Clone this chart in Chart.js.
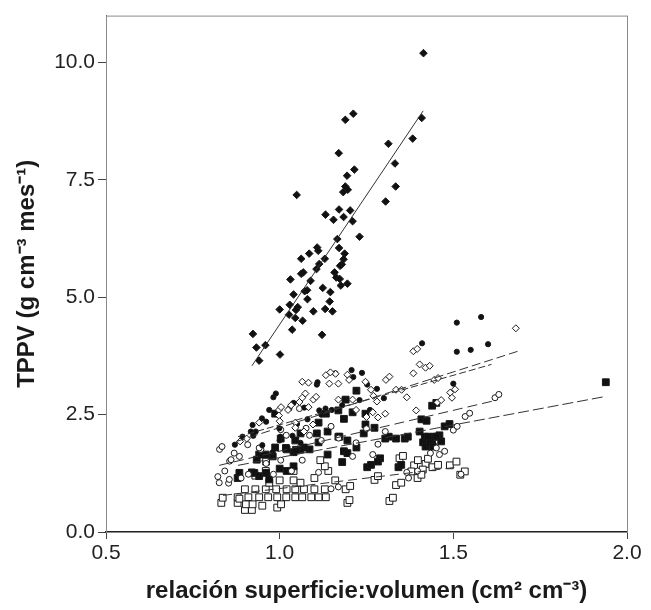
<!DOCTYPE html>
<html>
<head>
<meta charset="utf-8">
<script src="https://cdn.jsdelivr.net/npm/chart.js@4.4.1/dist/chart.umd.min.js"></script>
<style>
  html, body { margin: 0; padding: 0; background: #fff; }
  #wrap { width: 651px; height: 610px; }
</style>
</head>
<body>
<div id="wrap"><canvas id="grafico" width="651" height="610"></canvas></div>
<script>
// ejes
const xTicks = [0.5, 1.0, 1.5, 2.0]
const yTicks = [0, 2.5, 5, 7.5, 10]

// grupos de puntos [relación S:V, TPPV]
const diamantesLlenos = [
  [1.414,10.2],[1.212,8.91],[1.189,8.78],[1.409,8.82],[1.383,8.38],[1.313,8.27],[1.170,8.07],[1.332,7.85],
  [1.215,7.72],[1.194,7.59],[1.189,7.36],[1.196,7.29],[1.183,7.24],[1.049,7.18],[1.334,7.36],[1.305,7.04],
  [1.171,6.87],[1.203,6.85],[1.132,6.76],[1.155,6.65],[1.184,6.71],[1.210,6.62],[1.166,6.24],[1.230,6.29],
  [1.108,6.06],[1.111,5.99],[1.171,6.05],[1.085,5.93],[1.187,5.93],[1.062,5.82],[1.184,5.81],[1.130,5.82],
  [1.114,5.71],[1.179,5.70],[1.174,5.67],[1.106,5.60],[1.062,5.50],[1.068,5.53],[1.158,5.53],[1.163,5.42],
  [1.173,5.39],[1.031,5.38],[1.089,5.35],[1.195,5.29],[1.176,5.25],[1.124,5.20],[1.040,5.06],[1.072,5.13],
  [1.079,5.15],[1.146,5.11],[1.080,4.96],[1.144,4.91],[1.029,4.84],[1.052,4.79],[1.047,4.73],[1.000,4.74],
  [1.097,4.70],[1.131,4.75],[1.152,4.70],[1.027,4.63],[1.045,4.56],[1.066,4.50],[1.036,4.31],[1.122,4.20],
  [0.923,4.22],[0.933,3.93],[0.959,3.98],[1.001,3.78],[0.941,3.65]
]
const diamantesVacios = [
  [1.68,4.34],[1.385,3.85],[1.396,3.90],[1.403,3.57],[1.42,3.50],[1.432,3.54],[1.385,3.38],[1.306,3.24],
  [1.316,3.31],[1.335,3.03],[1.351,3.03],[1.366,2.87],[1.445,3.24],[1.456,3.28],[1.491,2.97],[1.496,2.86],
  [1.505,3.04],[1.454,2.76],[1.465,2.81],[1.133,3.34],[1.161,3.37],[1.195,3.35],[1.146,3.40],[1.065,3.20],
  [1.083,3.18],[1.143,3.16],[1.169,3.16],[1.20,3.24],[1.247,3.20],[1.263,3.03],[1.27,2.90],[1.28,2.78],
  [1.304,2.52],[1.097,2.82],[1.065,2.86],[0.998,2.60],[0.998,2.48],[1.0,2.36],[0.941,2.33],[1.024,2.60],
  [1.045,2.33],[1.045,2.22],[1.07,2.14],[1.169,2.82],[1.21,2.82],[1.268,2.55],[1.283,2.44],[0.905,1.99],
  [0.886,1.93],[1.096,2.29],[1.057,2.77],[1.033,2.70],[1.004,2.66],[1.083,2.66],[1.074,2.95],[1.105,2.88],
  [1.393,2.59],[1.22,2.60],[1.25,2.45]
]
const circulosLlenos = [
  [0.893,2.03],[0.917,2.14],[0.922,2.28],[0.931,2.14],[0.949,2.42],[0.961,2.35],[0.924,2.05],[0.982,2.87],
  [0.989,2.95],[0.999,2.21],[1.002,2.03],[1.028,2.63],[1.037,2.05],[1.071,2.65],[1.107,3.14],[1.109,3.19],
  [1.16,3.38],[1.186,2.83],[1.207,3.45],[1.212,3.30],[1.22,3.02],[1.23,2.81],[1.237,3.39],[1.252,3.14],
  [1.28,3.05],[1.30,2.85],[1.41,4.02],[1.50,3.16],[1.51,3.84],[1.51,4.46],[1.55,3.88],[1.58,4.58],
  [1.60,4.00],[0.95,1.85],[0.98,1.70],[1.0,1.95],[1.05,2.30],[1.08,2.40],[1.12,2.50],[1.15,2.60],
  [1.18,2.70],[1.26,2.60],[1.06,1.90],[0.97,2.60],[1.04,2.75],[1.114,2.59],[1.132,2.63],[0.871,1.86]
]
const circulosVacios = [
  [0.827,1.76],[0.822,1.18],[0.842,1.30],[0.856,1.51],[0.884,1.61],[0.853,1.04],[0.889,1.15],[0.91,1.23],
  [0.946,1.76],[0.961,1.46],[0.982,1.23],[1.003,1.53],[1.034,1.30],[1.065,1.53],[1.086,2.06],[1.112,1.27],
  [1.148,0.92],[1.169,0.96],[1.21,1.61],[1.268,1.65],[1.283,1.87],[1.366,1.27],[1.397,1.30],[1.434,1.68],
  [1.46,1.65],[1.451,1.79],[1.475,1.72],[1.50,2.17],[1.511,2.25],[1.534,2.46],[1.547,2.53],[1.62,2.86],
  [1.631,2.93],[1.522,1.23],[1.371,1.15],[1.304,2.14],[1.148,2.25],[1.003,2.18],[1.019,2.06],[0.908,1.86],
  [0.941,1.79],[0.834,1.82],[0.869,1.68],[0.86,1.54],[0.855,1.12],[0.826,1.05],[1.057,2.63],[1.076,2.21],
  [1.12,1.95],[1.17,2.00],[1.22,1.90],[1.25,2.20]
]
const cuadradosLlenos = [
  [1.939,3.19],[1.439,2.69],[1.408,2.40],[1.423,2.37],[1.403,2.14],[1.418,2.03],[1.444,2.03],[1.46,2.06],
  [1.413,1.91],[1.439,1.87],[1.42,1.82],[1.475,2.25],[1.451,2.75],[1.335,1.99],[1.36,1.99],[1.342,1.38],
  [1.304,1.99],[1.289,1.57],[1.252,1.38],[1.273,2.22],[1.247,2.29],[1.247,2.52],[1.242,2.10],[1.221,3.01],
  [1.19,2.82],[1.169,2.59],[1.185,2.41],[1.21,2.55],[1.133,2.52],[1.112,2.33],[1.138,2.14],[1.107,2.10],
  [1.169,2.03],[1.195,1.95],[1.221,1.80],[1.185,1.72],[1.195,1.68],[1.18,1.49],[1.112,1.91],[1.138,1.65],
  [1.086,1.76],[1.07,1.80],[1.06,2.10],[1.045,1.95],[1.003,1.99],[0.987,1.80],[1.02,1.76],[1.04,1.70],
  [1.06,1.76],[0.96,1.65],[0.941,1.65],[0.934,1.54],[0.98,1.61],[0.92,1.27],[0.879,1.15],[0.884,1.26],
  [0.927,1.26],[0.941,1.19],[0.961,1.26],[0.970,1.12],[1.0,1.35],[1.02,1.30],[1.04,1.40],[0.987,2.52],
  [1.018,1.79],[1.047,1.75],[1.172,2.03],[1.263,1.43],[1.283,1.50],[1.35,1.43],[1.369,2.03],[1.314,2.03],
  [1.489,2.30],[1.427,2.03],[1.451,2.03],[1.432,1.89],[1.441,1.82],[1.465,1.93]
]
const cuadradosVacios = [
  [0.832,0.62],[0.879,0.62],[0.90,0.47],[0.92,0.47],[0.95,0.56],[0.993,0.52],[0.879,0.74],[0.910,0.74],
  [0.941,0.74],[0.967,0.74],[0.993,0.74],[1.019,0.74],[1.045,0.74],[1.065,0.74],[1.091,0.74],[1.112,0.74],
  [1.133,0.74],[1.195,0.62],[1.316,0.66],[0.90,0.91],[0.93,0.91],[0.96,0.91],[0.99,0.91],[1.02,0.91],
  [1.045,0.91],[1.07,0.91],[1.10,0.91],[1.13,0.91],[1.19,0.91],[0.93,1.20],[0.96,1.30],[1.04,1.30],
  [1.04,1.10],[1.14,1.30],[1.13,1.40],[0.961,1.50],[1.273,1.11],[1.345,1.57],[1.335,1.00],[1.387,1.42],
  [1.397,1.15],[1.42,1.45],[1.44,1.38],[1.49,1.42],[1.52,1.22],[1.117,1.53],[1.355,1.62],[1.398,1.53],
  [1.427,1.56],[1.456,1.43],[1.509,1.50],[1.533,1.29],[1.412,1.33],[1.408,1.22],[1.379,1.29],[1.350,1.05],
  [1.283,1.19],[1.203,0.98],[1.201,0.68],[1.326,0.73],[0.836,0.73],[0.884,0.71],[0.903,0.59],[0.922,0.59],
  [1.004,0.59],[0.97,1.05],[1.0,1.10],[1.06,1.05],[1.10,1.15],[1.16,1.10]
]

// rectas de regresión (extremos)
const rectaDiamLlenos = [[0.92,3.54],[1.413,8.97]]
const rectaDiamVacios = [[0.876,1.93],[1.69,3.86]]
const rectaCircLlenos = [[0.88,2.03],[1.61,3.57]]
const rectaCircVacios = [[0.826,1.42],[1.62,2.80]]
const rectaCuadLlenos = [[0.88,1.42],[1.94,2.89]]
const rectaCuadVacios = [[0.837,0.78],[1.51,1.38]]

const pts = arr => arr.map(([x, y]) => ({x, y}))

function recta(datos, dash) {
  return {
    type: "line",
    data: pts(datos),
    borderColor: "#333",
    borderWidth: 1,
    borderDash: dash,
    pointRadius: 0,
    fill: false
  }
}

function nube(datos, estilo, radio, relleno) {
  return {
    type: "scatter",
    data: pts(datos),
    pointStyle: estilo,
    pointRadius: radio,
    pointHoverRadius: radio,
    pointBackgroundColor: relleno,
    pointBorderColor: "#1a1a1a",
    pointBorderWidth: 1
  }
}

// marco completo alrededor del área
const marco = {
  id: "marco",
  beforeDatasetsDraw(chart) {
    const {ctx, chartArea: a} = chart
    ctx.save()
    ctx.strokeStyle = "#8a8a8a"
    ctx.lineWidth = 1
    ctx.strokeRect(a.left + 0.5, a.top + 0.5, a.right - a.left, a.bottom - a.top)
    ctx.restore()
  }
}

const fuente = "'Liberation Sans', Arial, Helvetica, sans-serif"

new Chart(document.getElementById("grafico"), {
  data: {
    datasets: [
      recta(rectaDiamLlenos, []),
      recta(rectaDiamVacios, [9, 4]),
      recta(rectaCircLlenos, [7, 3]),
      recta(rectaCircVacios, [10, 5]),
      recta(rectaCuadLlenos, [11, 4]),
      recta(rectaCuadVacios, [9, 5]),
      nube(diamantesLlenos, "rectRot", 3.8, "#111"),
      nube(diamantesVacios, "rectRot", 3.5, "#fff"),
      nube(circulosLlenos, "circle", 2.6, "#111"),
      nube(circulosVacios, "circle", 3, "#fff"),
      nube(cuadradosLlenos, "rect", 4.8, "#111"),
      nube(cuadradosVacios, "rect", 4.8, "#fff")
    ]
  },
  options: {
    responsive: false,
    animation: false,
    devicePixelRatio: 1,
    layout: { padding: { top: 12, right: 24, left: 0, bottom: 0 } },
    plugins: { legend: { display: false }, tooltip: { enabled: false } },
    scales: {
      x: {
        type: "linear",
        min: 0.5,
        max: 2.0,
        afterBuildTicks: s => { s.ticks = xTicks.map(v => ({value: v})) },
        afterFit: s => { s.height = 78 },
        grid: { display: true, drawOnChartArea: false, drawTicks: true, tickLength: 7, color: "#444" },
        border: { display: true, color: "#222", width: 1.5 },
        ticks: {
          color: "#222",
          font: { family: fuente, size: 21 },
          padding: 2,
          callback: v => v.toFixed(1)
        },
        title: {
          display: true,
          text: "relación superficie:volumen (cm² cm⁻³)",
          color: "#1a1a1a",
          font: { family: fuente, size: 24, weight: "bold" },
          padding: { top: 0, bottom: 4 }
        }
      },
      y: {
        type: "linear",
        min: 0,
        max: 11,
        afterBuildTicks: s => { s.ticks = yTicks.map(v => ({value: v})) },
        afterFit: s => { s.width = 106 },
        grid: { display: true, drawOnChartArea: false, drawTicks: true, tickLength: 8, color: "#444" },
        border: { display: true, color: "#555", width: 1 },
        ticks: {
          color: "#222",
          font: { family: fuente, size: 21 },
          padding: 3,
          callback: v => v.toFixed(1)
        },
        title: {
          display: true,
          text: "TPPV (g cm⁻³ mes⁻¹)",
          color: "#1a1a1a",
          font: { family: fuente, size: 24, weight: "bold" },
          padding: { top: 13, bottom: 0 }
        }
      }
    }
  },
  plugins: [marco]
})
</script>
</body>
</html>
